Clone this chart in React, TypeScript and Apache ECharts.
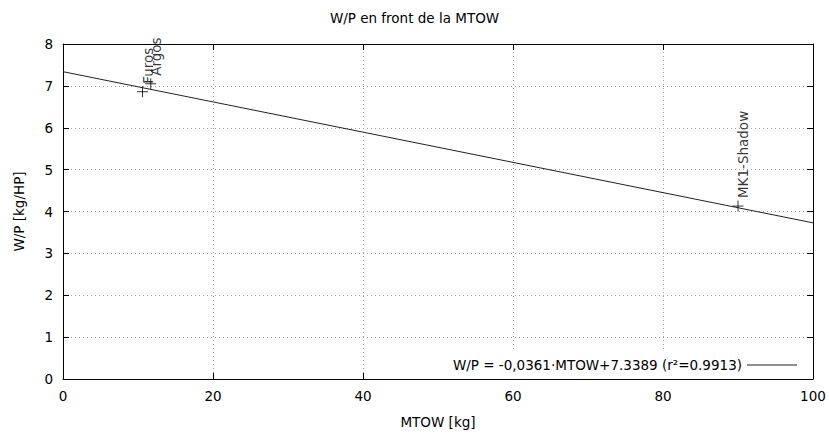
import React, { useEffect, useRef } from 'react';
import * as echarts from 'echarts';

const titleText = 'W/P en front de la MTOW';
const xName = 'MTOW [kg]';
const yName = 'W/P [kg/HP]';

const pointNames = ['Furos', 'Argos', 'MK1-Shadow'];
const pointMTOW = [10.6, 11.7, 90.0];
const pointWP = [6.86, 7.05, 4.13];

const fitName = 'W/P = -0,0361·MTOW+7.3389 (r²=0.9913)';
const fitMTOW = [0, 100];
const fitWP = [7.3389, 3.7289];

const xTicks = [0, 20, 40, 60, 80, 100];
const yTicks = [0, 1, 2, 3, 4, 5, 6, 7, 8];

const FONT = 'DejaVu Sans';
const TXT = '#000';
const FS = 13.5;

export default function App() {
  const ref = useRef<HTMLDivElement>(null);
  useEffect(() => {
    if (!ref.current) return;
    const chart = echarts.init(ref.current, undefined, { renderer: 'svg' });
    const xMin = xTicks[0], xMax = xTicks[xTicks.length - 1], xInt = xTicks[1] - xTicks[0];
    const yMin = yTicks[0], yMax = yTicks[yTicks.length - 1], yInt = yTicks[1] - yTicks[0];
    const baseX = {
      type: 'value' as const, min: xMin, max: xMax, interval: xInt,
      axisLine: { show: true, onZero: false, lineStyle: { color: '#000', width: 1 } },
      axisTick: { show: true, inside: true, length: 6, lineStyle: { color: '#000' } },
    };
    const baseY = {
      type: 'value' as const, min: yMin, max: yMax, interval: yInt,
      axisLine: { show: true, onZero: false, lineStyle: { color: '#000', width: 1 } },
      axisTick: { show: true, inside: true, length: 6, lineStyle: { color: '#000' } },
    };
    const grid = { type: [1, 3] as any, color: '#a0a0a0', width: 1 };
    chart.setOption({
      animation: false,
      backgroundColor: '#fff',
      textStyle: { fontFamily: FONT },
      title: {
        text: titleText, left: 'center', top: 6,
        textStyle: { fontFamily: FONT, fontSize: FS, fontWeight: 'normal', color: TXT },
      },
      grid: { left: 63, right: 16, top: 44, bottom: 54 },
      legend: {
        data: [{ name: fitName, icon: 'rect' }], right: 26, bottom: 55, orient: 'vertical', align: 'right',
        itemWidth: 50, itemHeight: 1, backgroundColor: '#fff', padding: [7, 6, 7, 8],
        textStyle: { fontFamily: FONT, fontSize: FS, color: TXT },
      },
      xAxis: [
        {
          ...baseX, position: 'bottom', name: xName, nameLocation: 'middle', nameGap: 36,
          nameTextStyle: { fontFamily: FONT, fontSize: FS, color: TXT },
          axisLabel: { fontFamily: FONT, fontSize: FS, color: TXT, margin: 10 },
          splitLine: { show: true, lineStyle: grid },
        },
        { ...baseX, position: 'top', axisLabel: { show: false }, splitLine: { show: false } },
      ],
      yAxis: [
        {
          ...baseY, position: 'left', name: yName, nameLocation: 'middle', nameGap: 37, nameRotate: 90,
          nameTextStyle: { fontFamily: FONT, fontSize: FS, color: TXT },
          axisLabel: { fontFamily: FONT, fontSize: FS, color: TXT, margin: 10 },
          splitLine: { show: true, lineStyle: grid },
        },
        { ...baseY, position: 'right', axisLabel: { show: false }, splitLine: { show: false } },
      ],
      series: [
        {
          name: fitName, type: 'line', xAxisIndex: 0, yAxisIndex: 0,
          data: fitMTOW.map((x, i) => [x, fitWP[i]]),
          showSymbol: false, symbol: 'none',
          lineStyle: { color: '#222', width: 1 }, itemStyle: { color: '#222' },
          z: 3,
        },
        {
          name: 'points', type: 'scatter', xAxisIndex: 0, yAxisIndex: 0,
          data: pointNames.map((n, i) => ({ name: n, value: [pointMTOW[i], pointWP[i]] })),
          symbol: 'path://M0,5L10,5M5,0L5,10', symbolSize: 11,
          itemStyle: { color: 'none', borderColor: '#000', borderWidth: 1 },
          label: {
            show: true, formatter: '{b}', position: [13, 0], rotate: 90,
            align: 'left', verticalAlign: 'middle',
            fontFamily: FONT, fontSize: FS, color: TXT,
          },
          z: 4,
        },
      ],
    });
    return () => chart.dispose();
  }, []);
  return <div ref={ref} style={{ position: 'fixed', left: 0, top: 0, width: 829, height: 434 }} />;
}
